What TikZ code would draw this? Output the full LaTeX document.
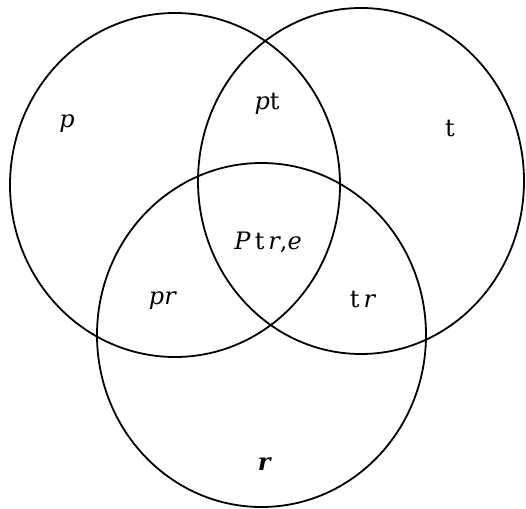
\documentclass[tikz,border=0pt]{standalone}
\usepackage{fontspec}
\setmainfont{DejaVu Serif}
\begin{document}
\begin{tikzpicture}[x=1pt,y=-1pt,
  setline/.style={draw=black,line width=1.8pt},
  lbl/.style={font=\fontsize{24}{28}\selectfont,inner sep=0pt}]
\useasboundingbox (0,0) rectangle (526,508);
\draw[setline] (175,185) ellipse [x radius=165, y radius=172];
\draw[setline] (361,181) ellipse [x radius=163, y radius=173];
\draw[setline] (261.5,335) ellipse [x radius=164.5, y radius=172];
\node[lbl] (p) at (67,124) {\textit{p}};
\node[lbl] (pt) at (267,104) {\textit{p}t};
\node[lbl] (t) at (450,129) {t};
\node[lbl] (ptre) at (268,242) {\textit{P}\,t\,\textit{r},\textit{e}};
\node[lbl] (pr) at (163,301) {\textit{pr}};
\node[lbl] (tr) at (363,300) {t\,\textit{r}};
\node[lbl] (r) at (265,464) {\textbf{\textit{r}}};
\end{tikzpicture}
\end{document}
